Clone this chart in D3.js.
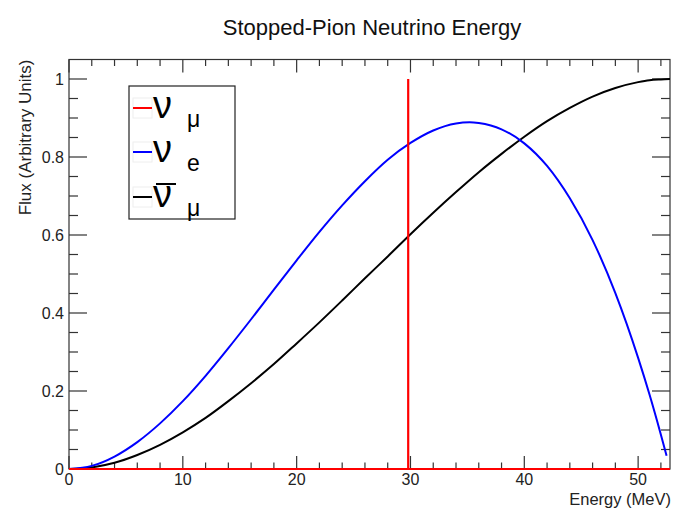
<!DOCTYPE html>
<html>
<head>
<meta charset="utf-8">
<script src="https://cdn.jsdelivr.net/npm/d3@7"></script>
<style>
body { margin: 0; background: #fff; }
svg { font-family: "Liberation Sans", Arial, Helvetica, sans-serif; }
</style>
</head>
<body>
<svg id="chart" width="685" height="508"></svg>
<script>
// energies (MeV)
var energy = [0, 2, 4, 6, 8, 10, 12, 14, 16, 18, 20, 22, 24, 26, 28, 30, 32, 34, 35.2, 36, 38, 40, 42, 44, 46, 48, 50, 51, 52, 52.5];
// nu_e flux
var nuE = [0, 0.008, 0.032, 0.069, 0.117, 0.174, 0.239, 0.31, 0.384, 0.46, 0.535, 0.608, 0.676, 0.738, 0.793, 0.836, 0.868, 0.886, 0.889, 0.887, 0.871, 0.835, 0.777, 0.694, 0.587, 0.451, 0.285, 0.191, 0.088, 0.034];
// anti nu_mu flux
var energyBar = [0, 2, 4, 6, 8, 10, 12, 14, 16, 18, 20, 22, 24, 26, 28, 30, 32, 34, 36, 38, 40, 42, 44, 46, 48, 50, 51, 52, 52.8];
var nuMuBar = [0, 0.004, 0.016, 0.036, 0.062, 0.094, 0.131, 0.174, 0.22, 0.269, 0.322, 0.376, 0.432, 0.489, 0.545, 0.602, 0.657, 0.71, 0.761, 0.808, 0.852, 0.892, 0.926, 0.955, 0.977, 0.992, 0.997, 0.999, 1.0];
// nu_mu: monoenergetic line
var nuMuE = 29.8, nuMuFlux = 1.0;

var xTicks = [0, 10, 20, 30, 40, 50];
var yTicks = [0, 0.2, 0.4, 0.6, 0.8, 1];

var svg = d3.select("#chart");
var L = 69, R = 670, T = 59.5, B = 469;

var x = d3.scaleLinear().domain([0, 52.8]).range([L, R]);
var y = d3.scaleLinear().domain([0, 1.05]).range([B, T]);

var axisCol = "#333";

// title
svg.append("text").attr("x", 372).attr("y", 35).attr("text-anchor", "middle")
	.style("font-size", "22px").attr("fill", "#111").text("Stopped-Pion Neutrino Energy");

// frame
svg.append("rect").attr("x", L).attr("y", T).attr("width", R - L).attr("height", B - T)
	.attr("fill", "none").attr("stroke", axisCol).attr("stroke-width", 1.2);

var g = svg.append("g");

// x ticks bottom + top
d3.range(0, 53, 2).forEach(function(v) {
	var major = v % 10 == 0;
	var len = major ? 13 : 6.5;
	g.append("line").attr("x1", x(v)).attr("x2", x(v)).attr("y1", B).attr("y2", B - len)
		.attr("stroke", axisCol).attr("stroke-width", 1.2);
	g.append("line").attr("x1", x(v)).attr("x2", x(v)).attr("y1", T).attr("y2", T + len)
		.attr("stroke", axisCol).attr("stroke-width", 1.2);
});
xTicks.forEach(function(v) {
	g.append("text").attr("x", x(v)).attr("y", B + 16).attr("text-anchor", "middle")
		.style("font-size", "16px").attr("fill", "#222").text(v);
});

// y ticks left + right
d3.range(0, 21).forEach(function(i) {
	var v = i * 0.05;
	var major = i % 4 == 0;
	var len = major ? 18 : 9;
	g.append("line").attr("x1", L).attr("x2", L + len).attr("y1", y(v)).attr("y2", y(v))
		.attr("stroke", axisCol).attr("stroke-width", 1.2);
	g.append("line").attr("x1", R).attr("x2", R - len).attr("y1", y(v)).attr("y2", y(v))
		.attr("stroke", axisCol).attr("stroke-width", 1.2);
});
yTicks.forEach(function(v) {
	g.append("text").attr("x", L - 5).attr("y", y(v) + 6).attr("text-anchor", "end")
		.style("font-size", "16px").attr("fill", "#222").text(v == 0 ? "0" : d3.format("~g")(v));
});

// axis titles
svg.append("text").attr("x", R + 1).attr("y", 505).attr("text-anchor", "end")
	.style("font-size", "16.5px").attr("fill", "#222").text("Energy (MeV)");
svg.append("text").attr("transform", "translate(31," + T + ") rotate(-90)").attr("text-anchor", "end")
	.style("font-size", "17px").attr("fill", "#222").text("Flux (Arbitrary Units)");

// curves
var line = d3.line().x(function(d) { return x(d[0]); }).y(function(d) { return y(d[1]); }).curve(d3.curveMonotoneX);

svg.append("path").datum(d3.zip(energyBar, nuMuBar)).attr("d", line)
	.attr("fill", "none").attr("stroke", "#000").attr("stroke-width", 2);
svg.append("path").datum(d3.zip(energy, nuE)).attr("d", line)
	.attr("fill", "none").attr("stroke", "#0000ff").attr("stroke-width", 2);

// nu_mu line: baseline + spike
svg.append("line").attr("x1", x(0)).attr("x2", x(52.8)).attr("y1", y(0)).attr("y2", y(0))
	.attr("stroke", "#ff0000").attr("stroke-width", 2.2);
svg.append("line").attr("x1", x(nuMuE)).attr("x2", x(nuMuE)).attr("y1", y(0)).attr("y2", y(nuMuFlux))
	.attr("stroke", "#ff0000").attr("stroke-width", 2.2);

// legend
var leg = svg.append("g");
leg.append("rect").attr("x", 129).attr("y", 86).attr("width", 106).attr("height", 133)
	.attr("fill", "#fff").attr("stroke", "#222").attr("stroke-width", 1.2);
var items = [
	{ col: "#ff0000", sub: "\u03bc", bar: false, cy: 108 },
	{ col: "#0000ff", sub: "e", bar: false, cy: 152 },
	{ col: "#000", sub: "\u03bc", bar: true, cy: 197 }
];
items.forEach(function(it) {
	leg.append("rect").attr("x", 133).attr("y", it.cy - 10).attr("width", 19).attr("height", 20)
		.attr("fill", "none").attr("stroke", "#eee").attr("stroke-width", 1);
	leg.append("line").attr("x1", 133).attr("x2", 152).attr("y1", it.cy).attr("y2", it.cy)
		.attr("stroke", it.col).attr("stroke-width", 2);
	leg.append("text").attr("x", 153).attr("y", it.cy + 10).style("font-size", "38px")
		.attr("fill", "#000").text("\u03bd");
	if (it.bar) {
		leg.append("line").attr("x1", 156).attr("x2", 176).attr("y1", it.cy - 13).attr("y2", it.cy - 13)
			.attr("stroke", "#000").attr("stroke-width", 2);
	}
	leg.append("text").attr("x", 187).attr("y", it.cy + 19).style("font-size", "23px")
		.attr("fill", "#000").text(it.sub);
});
</script>
</body>
</html>
